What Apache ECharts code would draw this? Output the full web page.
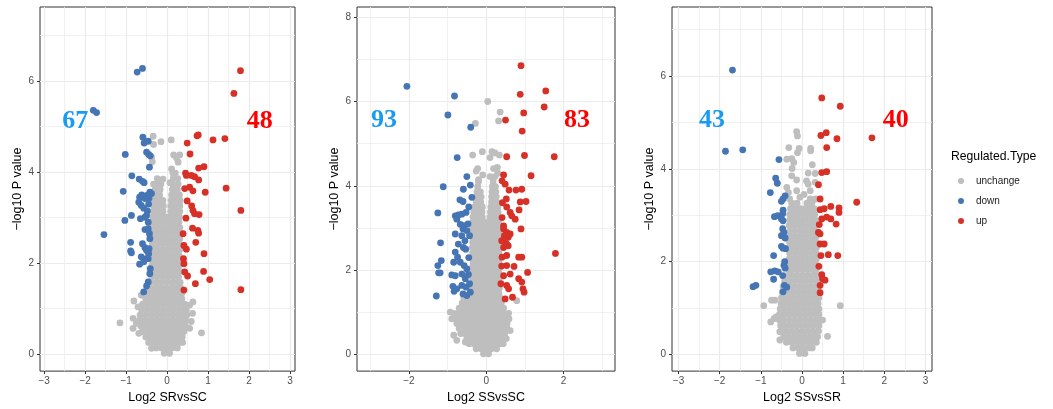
<!DOCTYPE html>
<html><head><meta charset="utf-8">
<script src="https://cdn.jsdelivr.net/npm/echarts@6/dist/echarts.min.js"></script>
<style>html,body{margin:0;padding:0;background:#fff}#c{width:1053px;height:409px}</style>
</head><body><div id="c"></div>
<script>
// ---------- DATA ----------
const typeNames = ['unchange', 'down', 'up'];
const xTitles = ['Log2 SRvsSC', 'Log2 SSvsSC', 'Log2 SSvsSR'];
const yTitle = '\u2212log10 P value';
const xTicks1 = [-3, -2, -1, 0, 1, 2, 3];
const xTicks2 = [-2, 0, 2];
const xTicks3 = [-3, -2, -1, 0, 1, 2, 3];
const yTicks1 = [0, 2, 4, 6];
const yTicks2 = [0, 2, 4, 6, 8];
const yTicks3 = [0, 2, 4, 6];
const downCounts = ['67', '93', '43'];
const upCounts = ['48', '83', '40'];

// gray (unchange) points: rows of [y, x1, x2, ...]
const gray1Rows = [
[0.02, -0.07, 0.06],
[0.14, -0.27, -0.14, -0.01, 0.12, 0.25],
[0.26, -0.45, -0.33, -0.2, -0.07, 0.06, 0.19, 0.32, 0.38],
[0.38, -0.52, -0.39, -0.26, -0.13, 0, 0.13, 0.26, 0.37],
[0.5, -0.6, -0.46, -0.33, -0.2, -0.07, 0.06, 0.19, 0.32, 0.41],
[0.62, -0.64, -0.52, -0.39, -0.26, -0.13, 0, 0.13, 0.26, 0.39, 0.45],
[0.74, -0.68, -0.58, -0.45, -0.32, -0.19, -0.06, 0.07, 0.2, 0.33, 0.46],
[0.86, -0.66, -0.52, -0.39, -0.26, -0.13, 0, 0.13, 0.26, 0.39, 0.48],
[0.98, -0.62, -0.49, -0.36, -0.23, -0.1, 0.03, 0.16, 0.29, 0.42, 0.47],
[1.1, -0.6, -0.47, -0.34, -0.21, -0.08, 0.05, 0.18, 0.31, 0.43],
[1.22, -0.52, -0.4, -0.27, -0.14, -0.01, 0.12, 0.25, 0.36],
[1.34, -0.45, -0.33, -0.2, -0.07, 0.06, 0.19, 0.32, 0.36],
[1.46, -0.42, -0.29, -0.16, -0.03, 0.1, 0.23, 0.33],
[1.58, -0.39, -0.26, -0.13, 0, 0.13, 0.26, 0.32],
[1.7, -0.37, -0.24, -0.11, 0.02, 0.15, 0.28],
[1.82, -0.38, -0.3, -0.17, -0.04, 0.09, 0.22, 0.31],
[1.94, -0.37, -0.24, -0.11, 0.02, 0.15, 0.28],
[2.06, -0.36, -0.3, -0.17, -0.04, 0.09, 0.22, 0.31],
[2.18, -0.37, -0.24, -0.11, 0.02, 0.15, 0.29],
[2.3, -0.37, -0.3, -0.17, -0.04, 0.09, 0.22, 0.31],
[2.42, -0.36, -0.23, -0.1, 0.03, 0.16, 0.29],
[2.54, -0.37, -0.29, -0.16, -0.03, 0.1, 0.23, 0.31],
[2.66, -0.36, -0.24, -0.11, 0.02, 0.15, 0.29],
[2.78, -0.36, -0.3, -0.17, -0.04, 0.09, 0.22, 0.31],
[2.9, -0.35, -0.23, -0.1, 0.03, 0.16, 0.29],
[3.02, -0.35, -0.28, -0.16, -0.04, 0.07, 0.19, 0.3],
[3.14, -0.34, -0.22, -0.1, 0.09, 0.2, 0.31],
[3.26, -0.33, -0.21, -0.09, 0.09, 0.2, 0.31],
[3.38, -0.31, -0.19, -0.1, 0.1, 0.22, 0.32],
[3.5, -0.3, -0.18, 0.11, 0.23, 0.3],
[3.62, -0.29, -0.17, 0.13, 0.25],
[3.74, -0.28, -0.15, 0.14, 0.27],
[3.86, -0.24, 0.15, 0.26],
[3.98, 0.14, 0.2]
];
const gray1Extra = [[-0.34,4.79],[-0.33,4.61],[-0.15,4.67],[0.1,4.71],[-0.36,4.23],[-0.38,4.33],[0.16,4.38],[0.31,4.38],[0.23,4.31],[0.27,4.22],[0.11,4.07],[-0.1,3.85],[-0.18,3.8],[-0.33,3.74],[0.07,3.77],[0.15,3.71],[-1.15,0.69],[-0.69,0.46],[0.84,0.47],[-0.83,0.79],[-0.75,0.68],[-0.83,0.57],[0.55,0.57],[0.59,0.72],[0.62,0.9],[0.55,1.08],[0.63,1.15],[-0.81,1.17],[-0.71,1.04],[-0.63,1.3],[-0.38,0.13],[0.35,0.35]];
const blue1 = [[-0.73,6.2],[-0.6,6.28],[-1.8,5.36],[-1.72,5.31],[-1.54,2.63],[-1.02,4.39],[-1.07,3.58],[-1.03,2.94],[-0.86,3.92],[-0.87,3.05],[-0.89,2.46],[-0.89,2.27],[-0.87,2.23],[-0.59,4.77],[-0.56,4.64],[-0.46,4.68],[-0.5,4.44],[-0.45,4.39],[-0.41,4.36],[-0.43,4.11],[-0.68,3.85],[-0.6,3.8],[-0.56,3.77],[-0.67,3.45],[-0.69,3.34],[-0.63,3.27],[-0.57,3.21],[-0.54,3.42],[-0.49,3.49],[-0.42,3.56],[-0.38,3.53],[-0.44,3.43],[-0.65,2.98],[-0.54,3.01],[-0.5,3.05],[-0.54,2.74],[-0.46,2.76],[-0.6,2.43],[-0.54,2.34],[-0.5,2.28],[-0.45,2.21],[-0.63,2.14],[-0.57,2.03],[-0.46,2.1],[-0.41,1.88],[-0.42,1.77],[-0.46,1.59],[-0.5,1.5],[-0.57,1.37],[-0.67,1.98],[-0.42,2.54],[-0.44,2.32],[-0.5,2.1],[-0.45,3.3],[-0.48,3.15],[-0.46,2.9],[-0.43,2.65],[-0.62,3.5]];
const red1 = [[1.79,6.23],[1.63,5.73],[1.41,4.74],[1.12,4.71],[0.73,4.8],[0.76,4.82],[0.49,4.64],[0.56,4.4],[0.77,4.09],[0.9,4.12],[0.45,3.98],[0.47,3.93],[0.59,3.93],[0.67,3.9],[0.77,3.83],[0.43,3.64],[0.55,3.67],[0.63,3.59],[0.93,3.56],[1.44,3.65],[0.49,3.37],[0.6,3.26],[0.63,3.16],[0.67,3.09],[0.78,3.07],[0.46,2.99],[1.8,3.16],[0.62,2.77],[0.75,2.72],[0.77,2.66],[0.7,2.46],[0.41,2.39],[0.47,2.31],[0.9,2.21],[0.41,1.99],[0.43,1.81],[0.5,1.72],[0.89,1.82],[1.04,1.64],[0.69,1.55],[0.41,1.41],[1.8,1.42],[0.39,2.65],[0.4,2.1]];

const gray2Rows = [
[0.02, -0.07, 0.06],
[0.14, -0.26, -0.13, 0, 0.13, 0.27],
[0.26, -0.44, -0.31, -0.18, -0.05, 0.08, 0.21, 0.34, 0.44],
[0.38, -0.5, -0.37, -0.24, -0.11, 0.02, 0.15, 0.28, 0.41, 0.47],
[0.5, -0.66, -0.56, -0.43, -0.3, -0.17, -0.04, 0.09, 0.22, 0.35, 0.48],
[0.62, -0.7, -0.57, -0.44, -0.31, -0.18, -0.05, 0.08, 0.21, 0.34, 0.47, 0.54],
[0.74, -0.76, -0.63, -0.5, -0.37, -0.24, -0.11, 0.02, 0.15, 0.28, 0.41, 0.54],
[0.86, -0.81, -0.69, -0.56, -0.43, -0.3, -0.17, -0.04, 0.09, 0.22, 0.35, 0.48, 0.54],
[0.98, -0.84, -0.72, -0.59, -0.46, -0.33, -0.2, -0.07, 0.06, 0.19, 0.32, 0.45, 0.58],
[1.1, -0.7, -0.58, -0.45, -0.32, -0.19, -0.06, 0.07, 0.2, 0.33, 0.45],
[1.22, -0.62, -0.5, -0.37, -0.24, -0.11, 0.02, 0.15, 0.28, 0.39],
[1.34, -0.58, -0.45, -0.32, -0.19, -0.06, 0.07, 0.2, 0.33, 0.37],
[1.46, -0.42, -0.3, -0.17, -0.04, 0.09, 0.22, 0.33],
[1.58, -0.36, -0.23, -0.1, 0.03, 0.16, 0.29, 0.34],
[1.7, -0.35, -0.29, -0.16, -0.03, 0.1, 0.23, 0.33],
[1.82, -0.36, -0.24, -0.11, 0.03, 0.16, 0.28, 0.34],
[1.94, -0.35, -0.29, -0.17, -0.04, 0.1, 0.22, 0.33],
[2.06, -0.36, -0.23, -0.1, 0.02, 0.15, 0.29, 0.34],
[2.18, -0.34, -0.28, -0.16, -0.03, 0.09, 0.23, 0.33],
[2.3, -0.36, -0.23, -0.11, 0.03, 0.16, 0.29, 0.34],
[2.42, -0.35, -0.29, -0.16, -0.02, 0.1, 0.22, 0.33],
[2.54, -0.36, -0.24, -0.1, 0.03, 0.15, 0.28, 0.34],
[2.66, -0.35, -0.29, -0.17, -0.03, 0.1, 0.23, 0.32],
[2.78, -0.36, -0.23, -0.1, 0.02, 0.16, 0.29, 0.34],
[2.9, -0.35, -0.28, -0.16, -0.04, 0.1, 0.22, 0.33],
[3.02, -0.36, -0.23, -0.11, 0.03, 0.16, 0.29, 0.34],
[3.14, -0.35, -0.27, -0.15, -0.04, 0.08, 0.2, 0.32],
[3.26, -0.34, -0.22, -0.1, 0.1, 0.22, 0.32],
[3.38, -0.32, -0.2, -0.11, 0.11, 0.23, 0.31],
[3.5, -0.3, -0.18, -0.1, 0.12, 0.24, 0.3],
[3.62, -0.26, -0.14, 0.14, 0.27],
[3.74, -0.25, -0.13, 0.14, 0.26],
[3.86, -0.24, -0.15, 0.15, 0.25],
[3.98, -0.22, 0.16, 0.24],
[4.1, -0.2, 0.18]
];
const gray2Extra = [[0.04,6.0],[0.36,5.75],[0.32,5.54],[-0.28,5.48],[-0.35,4.73],[-0.1,4.81],[0.15,4.81],[0.23,4.78],[0.34,4.73],[0.1,4.67],[-0.22,4.41],[-0.26,4.35],[-0.09,4.26],[0.19,4.41],[0.29,4.44],[0.1,4.22],[0.23,4.22],[-0.84,0.46],[-0.76,0.34],[-0.54,0.3],[0.59,0.85],[0.62,0.57],[0.52,0.38],[-0.93,1.01],[0.79,1.28],[-0.89,0.85],[-0.2,4.15],[0.3,4.3]];
const blue2 = [[-2.05,6.36],[-0.82,6.13],[-0.99,5.68],[-0.4,5.39],[-0.75,4.67],[-1.11,3.98],[-0.5,4.22],[-0.59,3.92],[-0.41,4.02],[-0.68,3.67],[-0.6,3.63],[-1.25,3.36],[-0.8,3.29],[-0.72,3.31],[-0.63,3.33],[-0.52,3.37],[-0.76,3.21],[-0.67,3.09],[-0.57,3.06],[-0.6,2.98],[-0.5,2.94],[-0.8,2.86],[-0.63,2.82],[-0.43,2.82],[-1.18,2.65],[-0.72,2.62],[-0.59,2.54],[-0.53,2.5],[-1.16,2.23],[-1.25,2.11],[-1.23,1.94],[-1.19,1.94],[-0.8,2.43],[-0.74,2.31],[-0.67,2.19],[-0.84,2.19],[-0.57,2.11],[-0.5,2.03],[-0.89,1.89],[-0.8,1.87],[-0.63,1.91],[-0.54,1.8],[-0.86,1.62],[-0.76,1.56],[-0.63,1.64],[-0.52,1.6],[-0.43,1.68],[-0.83,1.5],[-0.6,1.44],[-0.5,1.4],[-0.41,1.48],[-1.29,1.39],[-0.37,3.73],[-0.45,3.5],[-0.47,3.1],[-0.45,2.3],[-0.46,1.9],[-0.55,2.7]];
const red2 = [[0.9,6.85],[1.54,6.25],[0.88,6.17],[1.5,5.87],[0.97,5.73],[0.5,5.56],[0.93,5.3],[0.53,4.69],[0.99,4.72],[1.76,4.69],[1.16,4.24],[0.45,4.26],[0.41,4.12],[0.49,4.04],[0.59,3.9],[0.77,3.9],[0.92,3.92],[0.52,3.69],[0.88,3.62],[1.03,3.63],[0.53,3.5],[0.62,3.37],[0.66,3.29],[0.75,3.21],[0.85,3.43],[0.41,3.25],[0.45,2.98],[0.53,2.9],[0.62,2.86],[0.47,2.82],[0.57,2.78],[0.9,2.98],[0.49,2.66],[0.57,2.58],[0.45,2.54],[0.53,2.62],[0.41,2.31],[0.53,2.35],[0.84,2.31],[0.92,2.31],[1.79,2.4],[0.53,2.11],[0.72,2.09],[0.45,1.87],[0.62,1.91],[1.07,1.95],[0.38,1.68],[0.53,1.64],[0.58,1.56],[0.84,1.8],[0.92,1.72],[0.95,1.56],[0.98,1.48],[0.68,1.36],[0.49,1.32],[0.42,3.6],[0.4,2.1],[0.45,3.05],[0.4,2.7]];

const gray3Rows = [
[0.02, -0.06, 0.07],
[0.14, -0.22, -0.09, 0.04, 0.17, 0.25],
[0.26, -0.38, -0.25, -0.12, 0.01, 0.14, 0.27, 0.35],
[0.38, -0.45, -0.32, -0.19, -0.06, 0.07, 0.2, 0.33, 0.38],
[0.5, -0.5, -0.38, -0.25, -0.12, 0.01, 0.14, 0.27, 0.4],
[0.62, -0.52, -0.4, -0.27, -0.14, -0.01, 0.12, 0.25, 0.38, 0.41],
[0.74, -0.55, -0.45, -0.32, -0.19, -0.06, 0.07, 0.2, 0.33, 0.41],
[0.86, -0.55, -0.42, -0.29, -0.16, -0.03, 0.1, 0.23, 0.36, 0.41],
[0.98, -0.53, -0.46, -0.33, -0.2, -0.07, 0.06, 0.19, 0.32, 0.41],
[1.1, -0.51, -0.39, -0.26, -0.13, 0, 0.13, 0.26, 0.39],
[1.22, -0.5, -0.44, -0.31, -0.18, -0.05, 0.08, 0.21, 0.34, 0.41],
[1.34, -0.48, -0.36, -0.23, -0.1, 0.03, 0.16, 0.29, 0.4],
[1.46, -0.46, -0.33, -0.2, -0.07, 0.06, 0.19, 0.32, 0.4],
[1.58, -0.42, -0.3, -0.17, -0.04, 0.09, 0.22, 0.35, 0.38],
[1.7, -0.39, -0.26, -0.13, 0, 0.13, 0.26, 0.37],
[1.82, -0.31, -0.24, -0.11, 0.02, 0.15, 0.28, 0.34],
[1.94, -0.3, -0.17, -0.04, 0.09, 0.22, 0.34],
[2.06, -0.31, -0.24, -0.11, 0.02, 0.15, 0.28, 0.35],
[2.18, -0.3, -0.17, -0.04, 0.09, 0.22, 0.34],
[2.3, -0.32, -0.24, -0.11, 0.02, 0.15, 0.28, 0.35],
[2.42, -0.3, -0.17, -0.04, 0.09, 0.22, 0.34],
[2.54, -0.31, -0.24, -0.11, 0.02, 0.15, 0.28, 0.34],
[2.66, -0.3, -0.17, -0.04, 0.09, 0.22, 0.33],
[2.78, -0.31, -0.24, -0.11, 0.02, 0.15, 0.28, 0.33],
[2.9, -0.3, -0.17, -0.04, 0.09, 0.22, 0.32],
[3.02, -0.3, -0.22, -0.1, 0.03, 0.15, 0.27, 0.31],
[3.14, -0.28, -0.16, -0.04, 0.08, 0.2, 0.29],
[3.26, -0.25, -0.12, 0.12, 0.24]
];
const gray3Extra = [[-0.13,4.8],[-0.11,4.71],[-0.32,4.46],[-0.07,4.44],[-0.11,4.35],[0.21,4.44],[0.21,4.39],[-0.37,4.21],[-0.25,4.22],[-0.2,4.14],[0.25,4.09],[-0.24,4.01],[-0.25,3.85],[0.32,3.9],[0.15,3.91],[-0.13,3.76],[0.11,3.74],[0.15,3.67],[0.2,3.53],[-0.37,3.6],[-0.33,3.49],[0.32,3.71],[-0.13,3.53],[-0.05,3.39],[0.33,3.35],[0.93,1.05],[-0.93,1.05],[-0.74,1.17],[-0.66,1.17],[-0.76,0.7],[-0.68,0.77],[-0.63,0.81],[-0.54,0.49],[-0.54,0.31],[0.5,0.74],[0.62,0.39],[-0.3,3.35],[0.05,3.45],[0.2,3.35]];
const blue3 = [[-1.69,6.13],[-1.86,4.38],[-1.44,4.41],[-0.56,4.2],[-0.64,3.8],[-0.6,3.69],[-0.77,3.49],[-0.41,3.42],[-0.46,3.35],[-0.5,3.3],[-0.46,3.11],[-0.47,3.03],[-0.67,2.97],[-0.59,2.99],[-0.5,2.92],[-0.46,2.88],[-0.47,2.71],[-0.44,2.63],[-0.5,2.56],[-0.41,2.51],[-0.5,2.33],[-0.46,2.29],[-0.4,2.28],[-0.69,2.13],[-0.44,1.92],[-0.41,1.86],[-0.76,1.78],[-0.66,1.8],[-0.58,1.78],[-0.47,1.7],[-0.69,1.62],[-0.43,1.49],[-0.37,1.45],[-1.19,1.46],[-1.12,1.49],[-0.46,1.35],[-0.42,2.0]];
const red3 = [[0.48,5.53],[0.93,5.35],[0.46,4.72],[0.59,4.78],[0.85,4.65],[1.7,4.67],[0.6,4.46],[0.48,3.92],[0.6,3.94],[0.4,3.66],[1.33,3.28],[0.44,3.35],[0.7,3.19],[0.9,3.16],[0.9,3.06],[0.44,3.12],[0.54,3.14],[0.48,2.92],[0.6,2.96],[0.7,2.92],[0.83,2.81],[0.4,2.63],[0.44,2.6],[0.44,2.38],[0.54,2.38],[0.46,2.13],[0.64,2.15],[0.87,2.13],[0.48,1.72],[0.5,1.63],[0.56,1.6],[0.44,1.49],[0.44,1.33],[0.42,2.8],[0.41,1.9]];

// ---------- BUILD ----------
function rowsToPoints(rows) {
  const out = [];
  rows.forEach(r => { for (let i = 1; i < r.length; i++) out.push([r[i], r[0]]); });
  return out;
}
const COLORS = { unchange: '#BEBEBE', down: '#4575B4', up: '#D73027' };
const ANN_COLORS = { down: '#1A9BF2', up: '#FF0000' };
const FONT = 'Liberation Sans, Arial, sans-serif';

const panels = [
  { grid: { left: 40, top: 7, width: 255, height: 366 }, xr: [-3.1, 3.12], yr: [-0.37, 7.63], xSplit: 5,
    xTicks: xTicks1, yTicks: yTicks1, gray: rowsToPoints(gray1Rows).concat(gray1Extra), blue: blue1, red: red1,
    annDown: [-2.24, 5.13], annUp: [2.26, 5.13] },
  { grid: { left: 357, top: 7, width: 258, height: 366 }, xr: [-3.34, 3.33], yr: [-0.39, 8.24], xSplit: 3,
    xTicks: xTicks2, yTicks: yTicks2, gray: rowsToPoints(gray2Rows).concat(gray2Extra), blue: blue2, red: red2,
    annDown: [-2.64, 5.56], annUp: [2.35, 5.56] },
  { grid: { left: 672, top: 7, width: 260, height: 366 }, xr: [-3.16, 3.16], yr: [-0.36, 7.49], xSplit: 5,
    xTicks: xTicks3, yTicks: yTicks3, gray: rowsToPoints(gray3Rows).concat(gray3Extra), blue: blue3, red: red3,
    annDown: [-2.19, 5.04], annUp: [2.28, 5.04] }
];

const grids = [], xAxes = [], yAxes = [], series = [];
const minus = v => String(v).replace('-', '\u2212');
panels.forEach((p, i) => {
  grids.push(Object.assign({ show: true, borderColor: '#333333', borderWidth: 1, backgroundColor: '#fff', containLabel: false }, p.grid));
  const common = {
    type: 'value', gridIndex: i,
    axisLine: { show: false, onZero: false },
    axisTick: { show: true, length: 3, lineStyle: { color: '#333333', width: 1 } },
    splitLine: { show: true, lineStyle: { color: '#EBEBEB', width: 1.2 } },
    minorTick: { show: false, splitNumber: 2 },
    minorSplitLine: { show: true, lineStyle: { color: '#EEEEEE', width: 0.8 } },
    nameLocation: 'middle',
    nameTextStyle: { fontSize: 12.5, color: '#000', fontFamily: FONT }
  };
  xAxes.push(Object.assign({}, common, {
    min: p.xr[0], max: p.xr[1], splitNumber: p.xSplit,
    name: xTitles[i], nameGap: 15,
    axisTick: Object.assign({}, common.axisTick, { customValues: p.xTicks }),
    axisLabel: { customValues: p.xTicks, color: '#4D4D4D', fontSize: 10, margin: 5, fontFamily: FONT, formatter: minus }
  }));
  yAxes.push(Object.assign({}, common, {
    min: p.yr[0], max: p.yr[1], splitNumber: 5,
    name: yTitle, nameGap: 15,
    axisTick: Object.assign({}, common.axisTick, { customValues: p.yTicks }),
    axisLabel: { customValues: p.yTicks, color: '#4D4D4D', fontSize: 10, margin: 6, fontFamily: FONT, formatter: minus }
  }));
  const mk = (name, data) => ({
    type: 'scatter', name, xAxisIndex: i, yAxisIndex: i, data, symbol: 'circle', symbolSize: 6.8,
    itemStyle: { color: COLORS[name], opacity: 1 }, silent: true, emphasis: { disabled: true }
  });
  series.push(mk('unchange', p.gray), mk('down', p.blue), mk('up', p.red));
  const annLabel = c => ({ show: true, position: 'inside', formatter: '{b}', opacity: 1, color: c,
      fontFamily: "'Liberation Serif', 'Times New Roman', serif", fontWeight: 'bold', fontSize: 26 });
  series.push({
    type: 'scatter', xAxisIndex: i, yAxisIndex: i, symbolSize: 1, silent: true, z: 5,
    itemStyle: { color: 'rgba(255,255,255,0)' }, emphasis: { disabled: true },
    data: [
      { value: p.annDown, name: downCounts[i], label: annLabel(ANN_COLORS.down) },
      { value: p.annUp, name: upCounts[i], label: annLabel(ANN_COLORS.up) }
    ],
    labelLayout: { hideOverlap: false }
  });
});

const chart = echarts.init(document.getElementById('c'), null, { renderer: 'canvas' });
chart.setOption({
  animation: false,
  backgroundColor: '#ffffff',
  grid: grids, xAxis: xAxes, yAxis: yAxes, series,
  legend: {
    data: typeNames, orient: 'vertical', left: 953, top: 171, icon: 'circle',
    itemWidth: 20, itemHeight: 6, itemGap: 10, selectedMode: false,
    textStyle: { fontSize: 10, color: '#1A1A1A', fontFamily: FONT }
  },
  graphic: [{
    type: 'text', left: 951, top: 151,
    style: { text: 'Regulated.Type', fontSize: 12.2, fill: '#000', fontFamily: FONT }
  }]
});
</script></body></html>
